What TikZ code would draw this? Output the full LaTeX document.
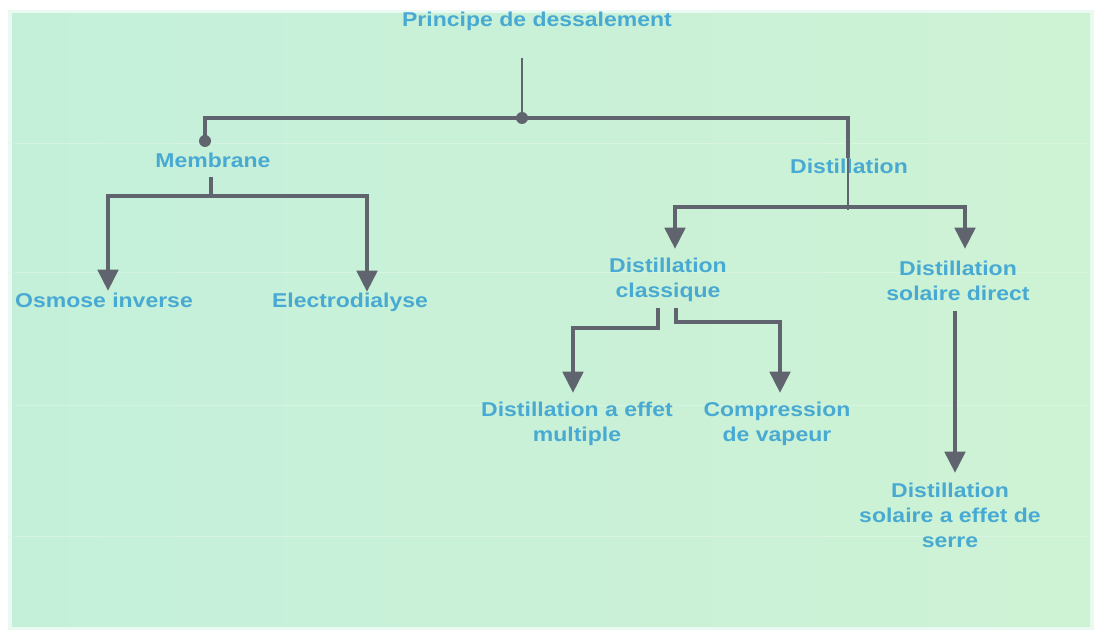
\documentclass[tikz,border=0pt]{standalone}
\usepackage{fontspec}
\setmainfont[FakeStretch=1.15]{Liberation Sans}
\usetikzlibrary{arrows.meta}
\definecolor{bgmint}{RGB}{196,240,218}
\definecolor{bgmint2}{RGB}{206,242,212}
\definecolor{txtblue}{RGB}{72,170,210}
\definecolor{linegray}{RGB}{96,100,110}
\tikzset{
  lbl/.style={text=txtblue, font=\bfseries\fontsize{15pt}{18.75pt}\selectfont, align=center, inner sep=0pt},
  conn/.style={draw=linegray, line width=3.6pt},
  thinconn/.style={draw=linegray, line width=1.6pt},
  arr/.style={conn, -{Triangle[width=15pt,length=16pt]}},
  dot/.style={circle, fill=linegray, inner sep=0pt, minimum size=9pt},
}
\begin{document}
\begin{tikzpicture}[x=0.75pt, y=-0.75pt]
\useasboundingbox (0,0) rectangle (1096,634);
\fill[white] (0,0) rectangle (1096,634);
\fill[bgmint, opacity=0.35] (8,10) rectangle (1094,630);
\shade[left color=bgmint, right color=bgmint2] (12,14) rectangle (1090,626);
\foreach \yy in {143,272,405,536} {\draw[white, opacity=0.25, line width=0.6pt] (14,\yy) -- (1088,\yy);}

% nodes
\node[lbl] (title) at (537,21) {Principe de dessalement};
\node[lbl] (membrane) at (213,160) {Membrane};
\node[lbl] (distil) at (849,166) {Distillation};
\node[lbl] (osmose) at (104,300) {Osmose inverse};
\node[lbl] (electro) at (350,302) {Electrodialyse};
\node[lbl] (classique) at (668,280) {Distillation\\classique};
\node[lbl] (solaire) at (958,281) {Distillation\\solaire direct};
\node[lbl] (multiple) at (577,424) {Distillation a effet\\multiple};
\node[lbl] (compression) at (777,424) {Compression\\de vapeur};
\node[lbl] (serre) at (950,515) {Distillation\\solaire a effet de\\serre};

% coordinates
\coordinate (t0) at (522,58);
\coordinate (j0) at (522,118);
\coordinate (mdot) at (205,141);
\coordinate (dtop) at (848,158);
\coordinate (dbot) at (848,210);
\coordinate (m1) at (211,177);
\coordinate (m2) at (211,196);
\coordinate (osA) at (108,291);
\coordinate (elA) at (367,292);
\coordinate (d2) at (848,207);
\coordinate (clA) at (675,249);
\coordinate (soA) at (965,249);
\coordinate (c1) at (658,308);
\coordinate (c1b) at (658,328);
\coordinate (mulA) at (573,393);
\coordinate (c2) at (676,308);
\coordinate (c2b) at (676,322);
\coordinate (comA) at (780,393);
\coordinate (s1) at (955,311);
\coordinate (serA) at (955,473);

% connectors
\draw[thinconn] (t0) -- (j0);
\draw[conn] (mdot) |- (j0) -| (dtop);
\draw[thinconn] (dtop) -- (dbot);
\node[dot] (dotj) at (j0) {};
\node[dot] (dotm) at (mdot) {};

\draw[thinconn, line width=2.4pt] (m1) -- (m2);
\draw[arr] (m2) -| (osA);
\draw[arr] (m2) -| (elA);

\draw[arr] (d2) -| (clA);
\draw[arr] (d2) -| (soA);

\draw[arr] (c1) -- (c1b) -| (mulA);
\draw[arr] (c2) -- (c2b) -| (comA);

\draw[arr] (s1) -- (serA);
\end{tikzpicture}
\end{document}
